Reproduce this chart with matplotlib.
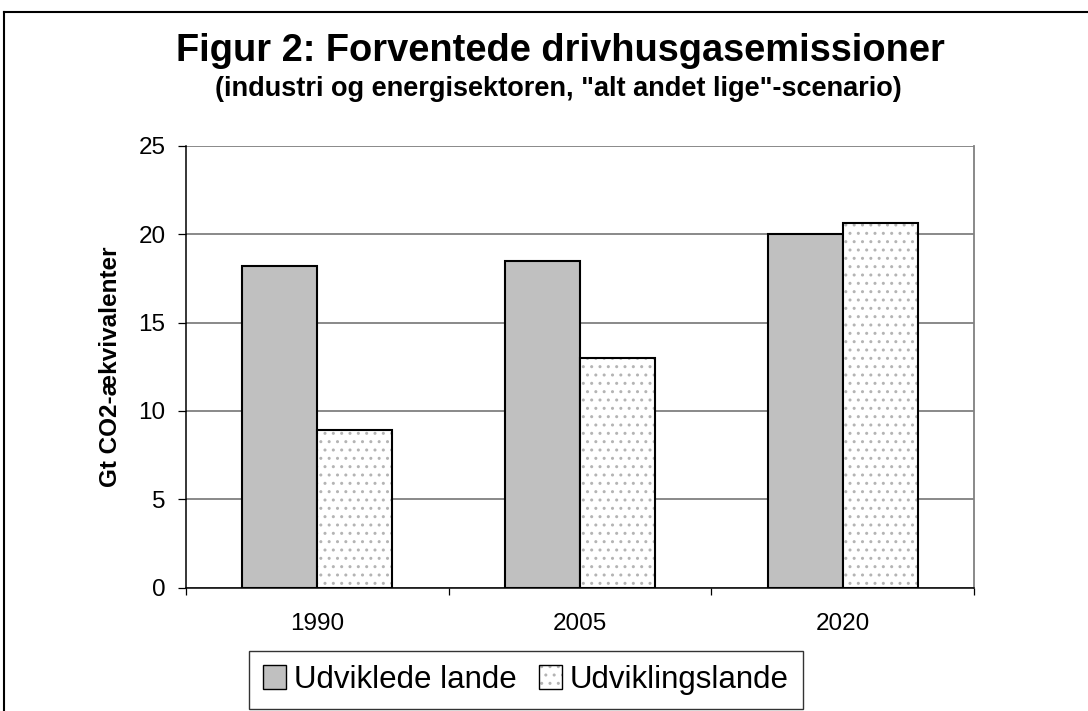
import matplotlib
matplotlib.use("Agg")
import matplotlib.pyplot as plt
import numpy as np
from matplotlib.patches import Patch
from matplotlib.lines import Line2D

years = ["1990", "2005", "2020"]
udviklede = [18.2, 18.5, 20.0]
udviklings = [8.9, 13.0, 20.6]
series_names = ["Udviklede lande", "Udviklingslande"]
yticks = [0, 5, 10, 15, 20, 25]

plt.rcParams['font.family'] = ['Liberation Sans', 'DejaVu Sans']
plt.rcParams['hatch.linewidth'] = 1.0
plt.rcParams['hatch.color'] = '#b4b4b4'

W, H = 1088, 711
fig = plt.figure(figsize=(W/100, H/100), dpi=100)
ax = fig.add_axes([186/W, 1-587.7/H, (974-186)/W, (587.7-145.7)/H])

x = np.arange(len(years))
bw = 0.2857
ax.bar(x - bw/2, udviklede, width=bw, color='#c0c0c0', edgecolor='black', linewidth=1.5, zorder=3)
ax.bar(x + bw/2, udviklings, width=bw, color='white', edgecolor='#b4b4b4', linewidth=0,
       hatch='..', zorder=3)
ax.bar(x + bw/2, udviklings, width=bw, fill=False, edgecolor='black', linewidth=1.5, zorder=4)

ax.set_xlim(-0.5, 2.5)
ax.set_ylim(0, 25)
ax.set_yticks(yticks)
ax.set_yticklabels([str(v) for v in yticks], fontsize=17.5)
ax.yaxis.grid(True, color='#808080', linewidth=1.3, zorder=0)
ax.set_axisbelow(True)

ax.set_xticks(x)
ax.set_xticklabels(years, fontsize=17.5)
ax.set_xticks([-0.5, 0.5, 1.5, 2.5], minor=True)
ax.tick_params(axis='x', which='major', length=0, pad=18)
ax.tick_params(axis='x', which='minor', length=5, width=0.9, direction='out')
ax.tick_params(axis='y', length=5.8, width=0.9, direction='out', pad=9)

ax.spines['top'].set_visible(False)
ax.spines['right'].set_color('#808080')
ax.spines['right'].set_linewidth(1.3)
ax.spines['left'].set_linewidth(1.1)
ax.spines['bottom'].set_linewidth(1.1)

ax.set_ylabel("Gt CO2-ækvivalenter", fontsize=17.5, fontweight='bold')
ax.yaxis.set_label_coords(-0.081, 0.5)

fig.text(560/W, 1-51/H, "Figur 2: Forventede drivhusgasemissioner", ha='center', va='center',
         fontsize=27.4, fontweight='bold')
fig.text(558/W, 1-89/H, "(industri og energisektoren, \"alt andet lige\"-scenario)", ha='center',
         va='center', fontsize=19.5, fontweight='bold')

# figure frame (top and left visible)
fig.add_artist(Line2D([4/W, 4/W], [0, 1-12/H], transform=fig.transFigure, color='black', linewidth=1.5))
fig.add_artist(Line2D([4/W, 1], [1-12/H, 1-12/H], transform=fig.transFigure, color='black', linewidth=1.5))

h1 = Patch(facecolor='#c0c0c0', edgecolor='black', linewidth=1.0)
h2a = Patch(facecolor='white', edgecolor='#b4b4b4', linewidth=0, hatch='..')
h2b = Patch(fill=False, edgecolor='black', linewidth=1.0)
leg = fig.legend([h1, (h2a, h2b)], series_names, loc='center', bbox_to_anchor=(526/W, 1-680/H),
                 ncol=2, fontsize=22.5, frameon=True, fancybox=False, edgecolor='black',
                 handlelength=0.75, handleheight=0.8, handletextpad=0.25, columnspacing=0.7,
                 borderpad=0.45, borderaxespad=0)
leg.get_frame().set_linewidth(1.0)

fig.savefig("out.png", dpi=100)
